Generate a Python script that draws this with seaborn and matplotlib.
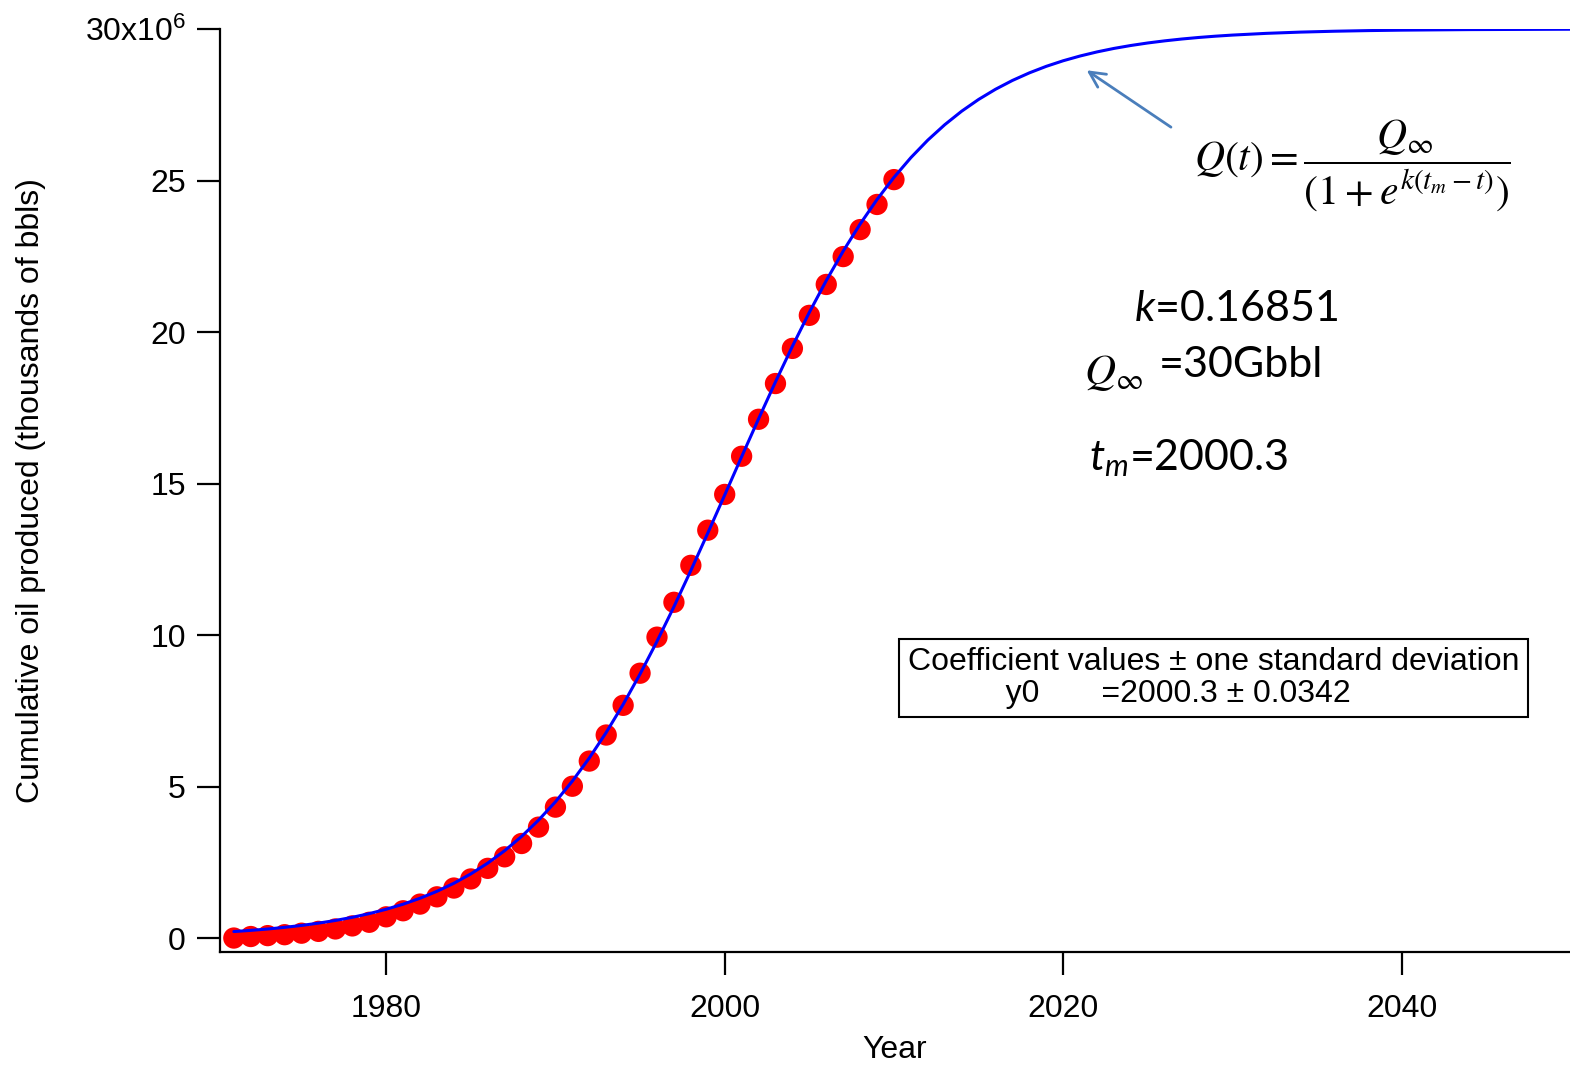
import numpy as np
import pandas as pd
import matplotlib
matplotlib.use('Agg')
import matplotlib.pyplot as plt
from matplotlib.ticker import FixedLocator, FixedFormatter
import seaborn as sns

# 관측 누적 생산량 (백만 배럴 단위, 그림에서 읽음)
years = list(range(1971, 2011))
cum_oil = [0.00, 0.05, 0.08, 0.11, 0.16, 0.22, 0.30, 0.40, 0.52, 0.70,
           0.90, 1.12, 1.36, 1.65, 1.95, 2.30, 2.68, 3.12, 3.66, 4.32,
           5.01, 5.84, 6.70, 7.68, 8.74, 9.93, 11.08, 12.30, 13.46, 14.64,
           15.90, 17.12, 18.30, 19.46, 20.55, 21.57, 22.49, 23.38, 24.21, 25.03]

# 로지스틱 피팅 곡선
fit_years = list(range(1971, 2031)) + [2032, 2034, 2036, 2038, 2040, 2044, 2050]
fit_oil = [0.214, 0.253, 0.298, 0.353, 0.416, 0.492, 0.580, 0.684, 0.806, 0.950,
           1.117, 1.313, 1.542, 1.808, 2.117, 2.473, 2.883, 3.353, 3.889, 4.496,
           5.179, 5.941, 6.785, 7.710, 8.714, 9.791, 10.934, 12.129, 13.364, 14.621,
           15.884, 17.134, 18.355, 19.530, 20.648, 21.697, 22.670, 23.563, 24.374, 25.104,
           25.756, 26.334, 26.842, 27.288, 27.676, 28.012, 28.303, 28.553, 28.769, 28.953,
           29.110, 29.245, 29.360, 29.457, 29.540, 29.610, 29.670, 29.721, 29.764, 29.800,
           29.857, 29.898, 29.927, 29.948, 29.963, 29.981, 29.993]

ytick_vals = [0, 5, 10, 15, 20, 25, 30]
ytick_labels = ['0', '5', '10', '15', '20', '25', r'30x10$^{\mathsf{6}}$']
xtick_vals = [1980, 2000, 2020, 2040]

obs = pd.DataFrame({'year': years, 'oil': np.array(cum_oil) * 1e6})
fit = pd.DataFrame({'year': fit_years, 'oil': np.array(fit_oil) * 1e6})


def main():
    sns.set_style('ticks')
    plt.rcParams['font.family'] = ['Liberation Sans', 'DejaVu Sans']
    plt.rcParams['text.color'] = 'black'
    plt.rcParams['axes.labelcolor'] = 'black'
    plt.rcParams['mathtext.fontset'] = 'custom'
    plt.rcParams['mathtext.rm'] = 'Lato'
    plt.rcParams['mathtext.it'] = 'Lato:italic'
    plt.rcParams['mathtext.bf'] = 'Lato:bold'
    plt.rcParams['mathtext.sf'] = 'Liberation Sans'

    fig = plt.figure(figsize=(15.7, 10.67), dpi=100)
    ax = fig.add_axes([0.1401, 0.1078, 0.8599, 0.865])

    sns.scatterplot(data=obs, x='year', y='oil', color='#ff0000', s=235,
                    edgecolor='none', ax=ax, zorder=2)
    sns.lineplot(data=fit, x='year', y='oil', color='#0000ff', lw=2.2,
                 ax=ax, zorder=3)

    ax.set_xlim(1970.18, 2049.94)
    ax.set_ylim(-0.46e6, 30e6)
    ax.xaxis.set_major_locator(FixedLocator(xtick_vals))
    ax.yaxis.set_major_locator(FixedLocator([v * 1e6 for v in ytick_vals]))
    ax.yaxis.set_major_formatter(FixedFormatter(ytick_labels))
    ax.tick_params(direction='out', length=16.5, width=1.6, labelsize=23,
                   pad=8, color='black', labelcolor='black')
    ax.tick_params(axis='x', pad=14)
    for side in ['top', 'right']:
        ax.spines[side].set_visible(False)
    for side in ['left', 'bottom']:
        ax.spines[side].set_linewidth(1.6)
        ax.spines[side].set_color('black')

    ax.set_xlabel('Year', fontsize=23, labelpad=8)
    ax.set_ylabel('Cumulative oil produced (thousands of bbls)', fontsize=23,
                  labelpad=28)

    # 수식과 계수
    ax.text(2027.75, 25.5e6,
            r'$Q(t)=\dfrac{Q_{\infty}}{\left(1+e^{k(t_m-t)}\right)}$',
            fontsize=30, math_fontfamily='stix', va='center', ha='left')
    ax.text(2024.2, 20.38e6, r'$k$=0.16851', fontfamily='Lato',
            fontsize=31, va='baseline')
    ax.text(2021.2, 18.3e6, r'$Q_{\infty}$', math_fontfamily='stix',
            fontsize=31, va='baseline')
    ax.text(2025.62, 18.5e6, '=30Gbbl', fontfamily='Lato',
            fontsize=31, va='baseline')
    ax.text(2021.5, 15.43e6, r'$t_m$=2000.3', fontfamily='Lato',
            fontsize=31, va='baseline')

    ax.annotate('', xy=(2021.25, 28.69e6), xytext=(2026.5, 26.71e6),
                arrowprops=dict(arrowstyle='->', color='#4a7ebb', lw=2,
                                mutation_scale=28))

    ax.text(2010.83, 8.58e6,
            'Coefficient values \u00b1 one standard deviation\n'
            '           y0       =2000.3 \u00b1 0.0342',
            fontsize=23, va='center', ha='left', linespacing=1.05,
            bbox=dict(boxstyle='square,pad=0.27', fc='white', ec='black',
                      lw=1.5))

    fig.savefig('out.png', dpi=100)


if __name__ == '__main__':
    main()
